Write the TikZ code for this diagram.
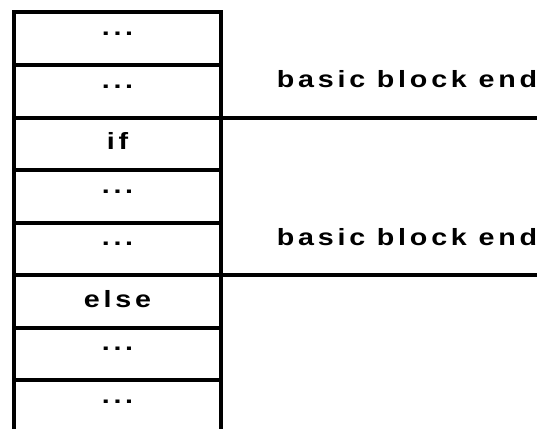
\documentclass[tikz,border=0pt]{standalone}
\usepackage{fontspec}
\setmainfont{Liberation Sans}[BoldFont={* Bold}]
\usetikzlibrary{positioning}

% wide bold face for all the labels
\newfontfamily\blockfont{Liberation Sans Bold}[FakeStretch=1.22, LetterSpace=16]

\begin{document}
\begin{tikzpicture}[x=1pt, y=-1pt,
                    every node/.style={font=\blockfont\fontsize{23.5pt}{24pt}\selectfont},
                    cell/.style={draw, line width=4pt, minimum width=207pt, minimum height=52.5pt, inner sep=0pt, outer sep=0pt},
                    word/.style={text height=12pt, text depth=0pt},
                    dots/.style={text height=0pt, text depth=6pt}]
                    \useasboundingbox (0,0) rectangle (540,428);
                    \node[cell, dots] (c1) at (117.5,38.75) {...};
                    \node[cell, dots, below=0pt of c1] (c2) {...};
                    \node[cell, word, below=0pt of c2] (c3) {if};
                    \node[cell, dots, below=0pt of c3] (c4) {...};
                    \node[cell, dots, below=0pt of c4] (c5) {...};
                    \node[cell, word, below=0pt of c5] (c6) {else};
                    \node[cell, dots, below=0pt of c6] (c7) {...};
                    \node[cell, dots, below=0pt of c7] (c8) {...};
                    \coordinate[right=316pt of c2.south east](e1);
                    \coordinate[right=316pt of c5.south east](e2);
                    \draw[line width=4pt] (c2.south east) -- (e1);
                    \draw[line width=4pt] (c5.south east) -- (e2);
                    \node[anchor=base] (b1) at (407,87) {basic block end};
                    \node[anchor=base] (b2) at (407,245) {basic block end};
                \end{tikzpicture}
\end{document}
